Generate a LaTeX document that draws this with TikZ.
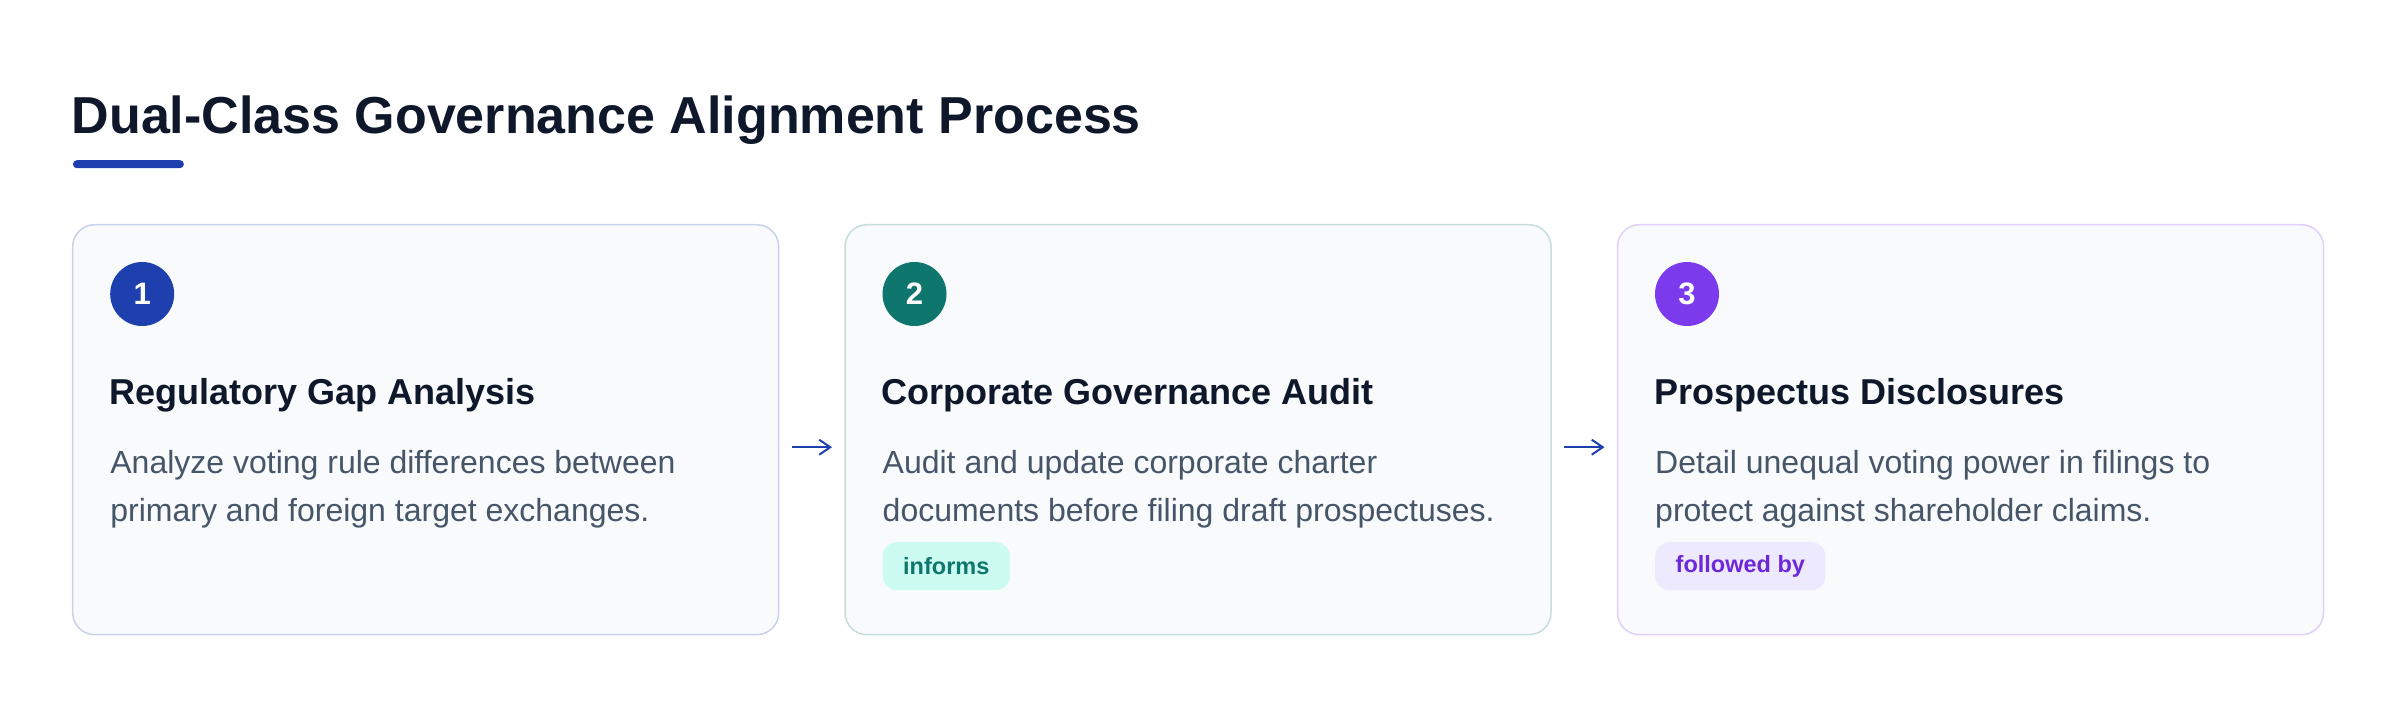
\documentclass[tikz,border=0pt]{standalone}
\usepackage{fontspec}
\setmainfont{Liberation Sans}
\usetikzlibrary{arrows.meta}
\definecolor{ink}{HTML}{0F172A}
\definecolor{bodytx}{HTML}{475569}
\definecolor{bluec}{HTML}{1E40AF}
\definecolor{tealc}{HTML}{0F766E}
\definecolor{violetc}{HTML}{7C3AED}
\definecolor{cardbg}{HTML}{F8FAFC}
\definecolor{tealbg}{HTML}{CCFBF1}
\definecolor{violetbg}{HTML}{EDE9FE}
\definecolor{violettx}{HTML}{6D28D9}
\begin{document}
\begin{tikzpicture}[x=1pt,y=-1pt,
  card/.style={draw=#1!24!white, line width=1.5pt, fill=cardbg, rounded corners=22pt,
    minimum width=706pt, minimum height=410pt, anchor=north west, inner sep=0pt, outer sep=0pt},
  badge/.style={circle, fill=#1, minimum size=64pt, inner sep=0pt, text=white,
    font=\fontsize{31}{31}\selectfont\bfseries},
  steptitle/.style={anchor=base west, inner sep=0pt, text=ink, font=\fontsize{36}{43}\selectfont\bfseries},
  desc/.style={anchor=base west, inner sep=0pt, text=bodytx, font=\fontsize{32}{48}\selectfont},
  tagbox/.style={fill=#1, rounded corners=14pt, inner xsep=20.5pt, inner ysep=0pt, minimum height=48pt,
    anchor=north west, font=\fontsize{23.5}{28}\selectfont\bfseries},
  flow/.style={draw=bluec, line width=2pt, shorten <=13pt, shorten >=13pt,
    -{Straight Barb[length=11pt,width=15pt]}}
]
\fill[white] (0,0) rectangle (2400,708);
\useasboundingbox (0,0) rectangle (2400,708);

% title
\node[anchor=base west, inner sep=0pt, text=ink, font=\fontsize{52}{62}\selectfont\bfseries]
  (title) at (71.5,134) {Dual-Class Governance Alignment Process};
\node[fill=bluec, rounded corners=4pt, minimum width=111pt, minimum height=8pt,
  anchor=north west, inner sep=0pt] (bar) at (72.7,160) {};

% cards
\node[card=bluec] (b1) at (72.7,224.7) {};
\node[card=tealc] (b2) at (845,224.7) {};
\node[card=violetc] (b3) at (1617.5,224.7) {};

% card 1
\node[badge=bluec] (n1) at (142.2,294) {1};
\node[steptitle] (t1) at (109.2,404) {Regulatory Gap Analysis};
\node[desc] (d1a) at (110.2,473) {Analyze voting rule differences between};
\node[desc] (d1b) at (110.2,521) {primary and foreign target exchanges.};

% card 2
\node[badge=tealc] (n2) at (914.5,294) {2};
\node[steptitle] (t2) at (881.5,404) {Corporate Governance Audit};
\node[desc] (d2a) at (882.5,473) {Audit and update corporate charter};
\node[desc] (d2b) at (882.5,521) {documents before filing draft prospectuses.};
\node[tagbox=tealbg, text=tealc] (g2) at (882.5,542) {informs};

% card 3
\node[badge=violetc] (n3) at (1687,294) {3};
\node[steptitle] (t3) at (1654,404) {Prospectus Disclosures};
\node[desc] (d3a) at (1655,473) {Detail unequal voting power in filings to};
\node[desc] (d3b) at (1655,521) {protect against shareholder claims.};
\node[tagbox=violetbg, text=violettx] (g3) at (1655,542) {followed by};

% connectors
\draw[flow] ([yshift=-17.5pt]b1.east) -- ([yshift=-17.5pt]b2.west);
\draw[flow] ([yshift=-17.5pt]b2.east) -- ([yshift=-17.5pt]b3.west);
\end{tikzpicture}
\end{document}
